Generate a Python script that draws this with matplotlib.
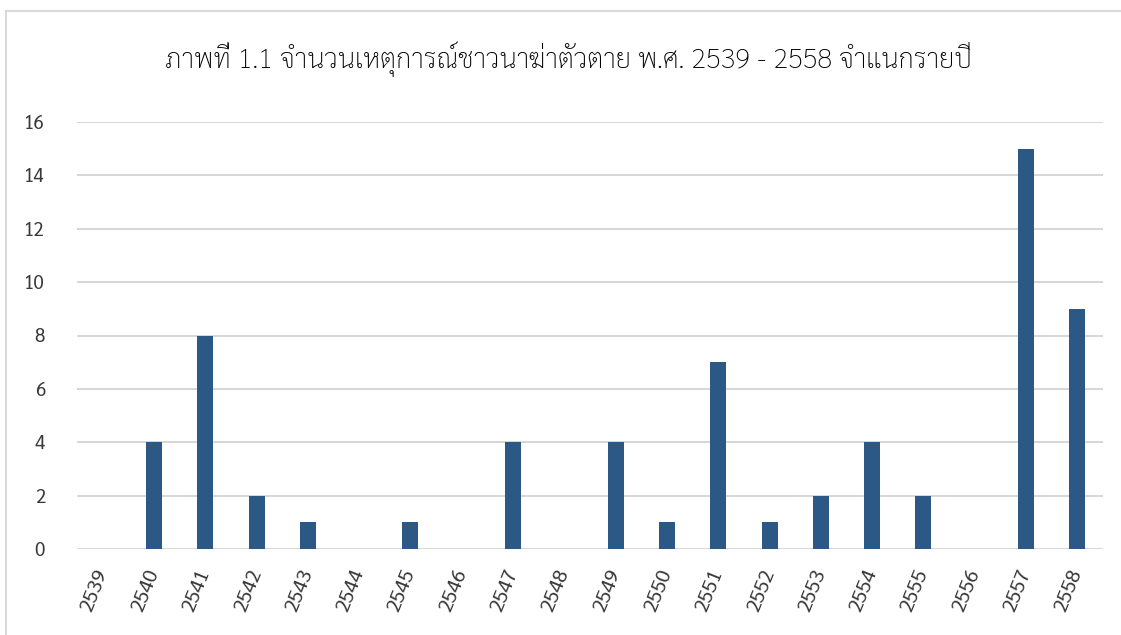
import matplotlib
matplotlib.use("Agg")
import matplotlib.pyplot as plt
from matplotlib.patches import Rectangle

# data
years = ['2539', '2540', '2541', '2542', '2543', '2544', '2545', '2546', '2547', '2548',
         '2549', '2550', '2551', '2552', '2553', '2554', '2555', '2556', '2557', '2558']
counts = [0, 4, 8, 2, 1, 0, 1, 0, 4, 0, 4, 1, 7, 1, 2, 4, 2, 0, 15, 9]
title = 'ภาพที่ 1.1 จำนวนเหตุการณ์ชาวนาฆ่าตัวตาย พ.ศ. 2539 - 2558 จำแนกรายปี'

plt.rcParams['font.family'] = ['Sarabun', 'IBM Plex Sans Thai Looped', 'DejaVu Sans']

fig = plt.figure(figsize=(11.21, 6.35), dpi=100)
# chart area border
fig.patches.append(Rectangle((6 / 1121, -0.05), 1.2, 1 - 11 / 635 + 0.05,
                             transform=fig.transFigure, fill=False,
                             edgecolor='#d9d9d9', linewidth=1.5))

ax = fig.add_axes([77 / 1121, 86 / 635, (1103 - 77) / 1121, (549 - 122) / 635])
x = list(range(len(years)))
ax.bar(x, counts, width=0.31, color='#2b5884', zorder=3)

ax.set_xlim(-0.5, len(years) - 0.5)
ax.set_ylim(0, 16)
ax.set_yticks(range(0, 17, 2))
ax.yaxis.grid(True, color='#d0d0d0', linewidth=1.2)
ax.set_axisbelow(True)
for s in ['top', 'right', 'left', 'bottom']:
    ax.spines[s].set_visible(False)
ax.tick_params(axis='both', length=0, labelcolor='#3a3a3a')
ax.tick_params(axis='y', pad=23, labelsize=13.5)
ax.set_xticks(x)
ax.set_xticklabels(years, rotation=68, ha='right', va='center', rotation_mode='anchor',
                   fontsize=14.5)
ax.tick_params(axis='x', pad=15)

fig.text(0.507, 0.906, title, ha='center', va='center', fontsize=19.8,
         fontweight='light', color='#000000')

fig.savefig('out.png', dpi=100)
